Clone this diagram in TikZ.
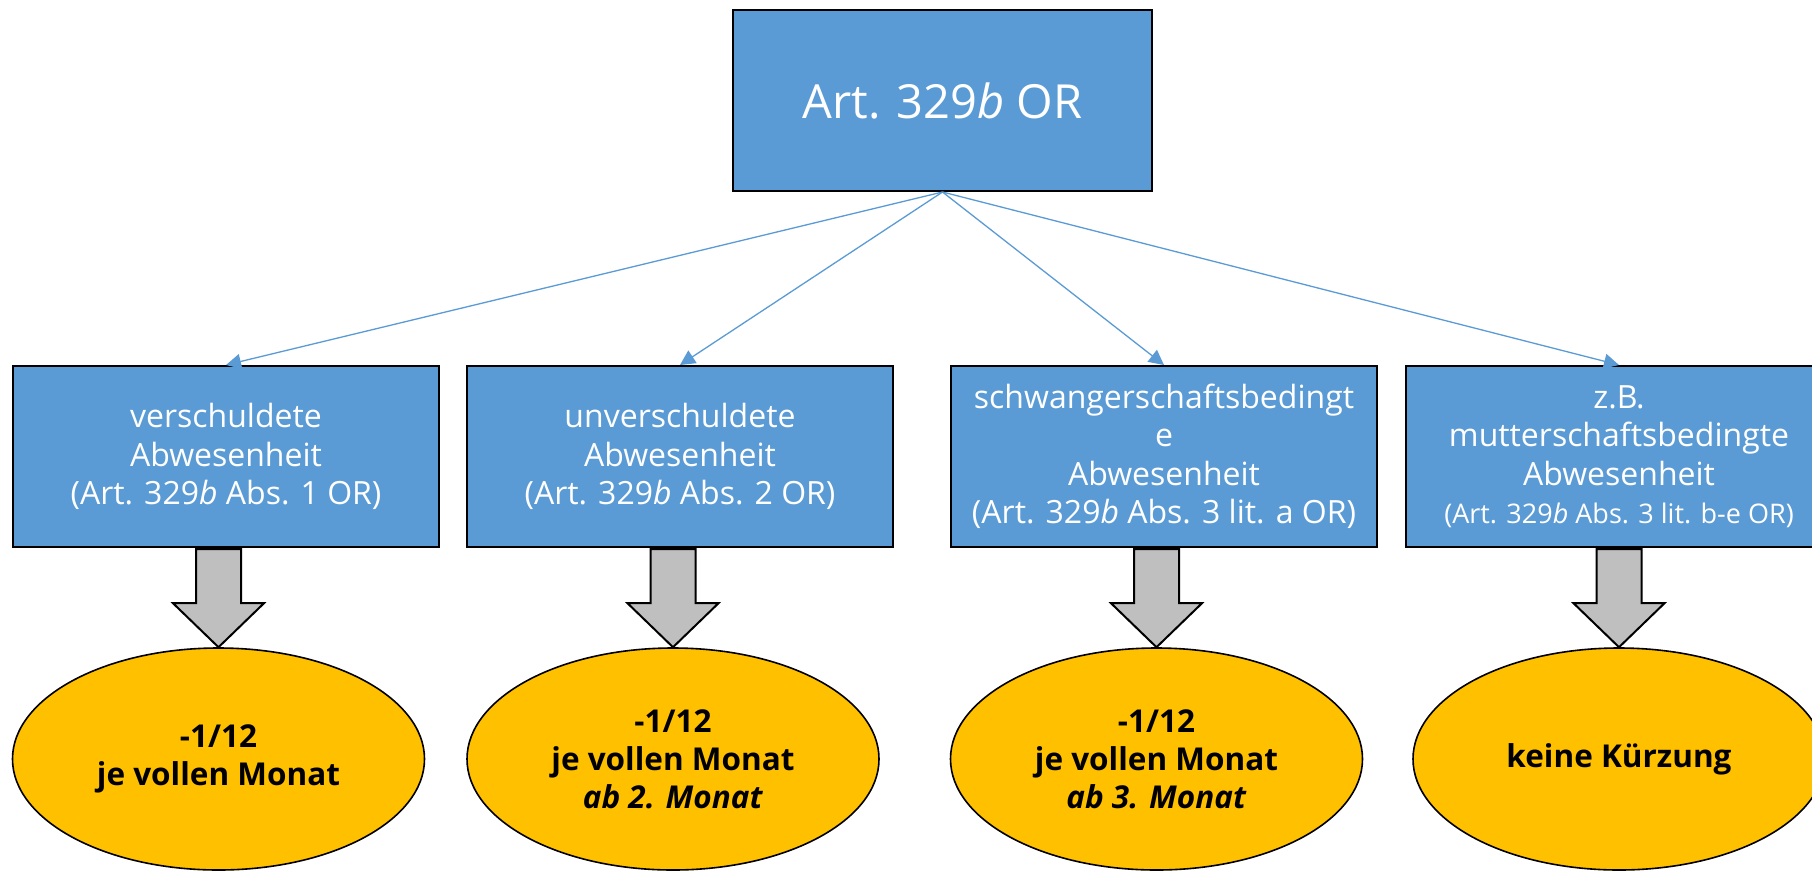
\documentclass[tikz,border=0pt]{standalone}
\usepackage{fontspec}
\setmainfont{Open Sans}
\usetikzlibrary{arrows.meta,shapes.geometric}
\definecolor{boxblue}{HTML}{5B9BD5}
\definecolor{ovalgold}{HTML}{FFC000}
\definecolor{arrowgray}{HTML}{BFBFBF}
\begin{document}
\begin{tikzpicture}[x=1pt,y=-1pt,
  topbox/.style={draw=black,line width=2pt,fill=boxblue,text=white,
    minimum width=419pt,minimum height=181pt,inner sep=0pt,
    font=\fontsize{47}{52}\selectfont},
  catbox/.style={draw=black,line width=2pt,fill=boxblue,text=white,
    minimum width=426pt,minimum height=181pt,inner sep=0pt,align=center,
    font=\fontsize{32}{38.5}\selectfont},
  resoval/.style={ellipse,draw=black,line width=1.6pt,fill=ovalgold,text=black,
    minimum width=412pt,minimum height=222pt,inner sep=0pt,align=center,
    font=\fontsize{31.5}{38}\selectfont\bfseries},
  conn/.style={draw=boxblue,line width=1.3pt,-{Triangle[length=15pt,width=15pt]}},
  blockarrow/.pic={
    \draw[line width=2pt,fill=arrowgray,line join=miter]
      (0,0) -- (-45.5,-44) -- (-22.5,-44) -- (-22.5,-98) -- (22.5,-98)
      -- (22.5,-44) -- (45.5,-44) -- cycle;
  }]
\useasboundingbox (0,0) rectangle (1812,871);
\clip (0,0) rectangle (1812,871);
\fill[white] (0,0) rectangle (1812,871);

\node[topbox] (top) at (942.5,100.5) {Art. 329\textit{b} OR};

\node[catbox] (b1) at (226,456.5) {verschuldete\\Abwesenheit\\(Art. 329\textit{b} Abs. 1 OR)};
\node[catbox] (b2) at (680,456.5) {unverschuldete\\Abwesenheit\\(Art. 329\textit{b} Abs. 2 OR)};
\node[catbox] (b3) at (1164,456.5) {schwangerschaftsbedingt\\e\\Abwesenheit\\(Art. 329\textit{b} Abs. 3 lit. a OR)};
\node[catbox] (b4) at (1619,456.5) {z.B.\\mutterschaftsbedingte\\Abwesenheit\\{\fontsize{27}{34}\selectfont (Art. 329\textit{b} Abs. 3 lit. b-e OR)}};

\draw[conn] (top.south) -- (b1.north);
\draw[conn] (top.south) -- (b2.north);
\draw[conn] (top.south) -- (b3.north);
\draw[conn] (top.south) -- (b4.north);

\node[resoval] (e1) at (218.5,759) {-1/12\\je vollen Monat};
\node[resoval] (e2) at (673,759) {-1/12\\je vollen Monat\\\textit{ab 2. Monat}};
\node[resoval] (e3) at (1156.5,759) {-1/12\\je vollen Monat\\\textit{ab 3. Monat}};
\node[resoval] (e4) at (1619,759) {keine Kürzung};

\pic at (e1.north) {blockarrow};
\pic at (e2.north) {blockarrow};
\pic at (e3.north) {blockarrow};
\pic at (e4.north) {blockarrow};
\end{tikzpicture}
\end{document}
